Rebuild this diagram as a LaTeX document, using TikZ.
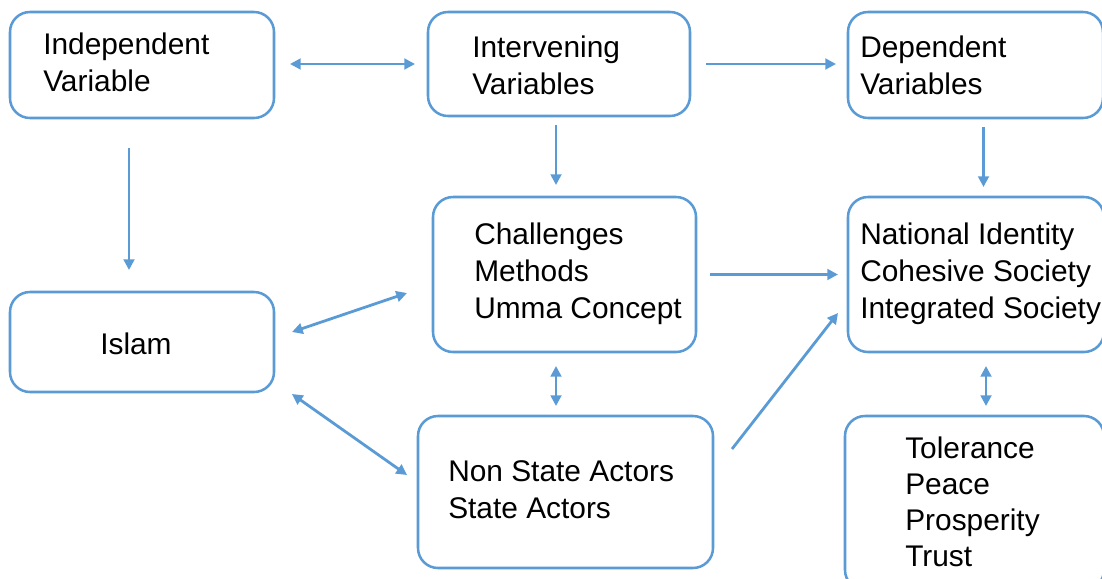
\documentclass[tikz,border=0pt]{standalone}
\usepackage{fontspec}
\setmainfont{Liberation Sans}
\usepackage{tikz}
\usetikzlibrary{calc,arrows.meta}
\definecolor{linkblue}{RGB}{91,155,213}
\def\boxfont{\fontsize{22.4}{27.75}\selectfont}
\def\tightfont{\fontsize{22.4}{26.8}\selectfont}
\tikzset{
	varbox/.style 2 args={draw=linkblue, line width=1.9pt, rounded corners=15pt, inner sep=0pt, outer sep=0pt, minimum width=#1*0.75pt, minimum height=#2*0.75pt},
	boxtext/.style={anchor=base west, align=left, inner sep=0pt, font=\boxfont},
	link/.style={draw=linkblue, line width=2.1pt, -{Triangle[length=8pt,width=8pt]}},
	twolink/.style={link, {Triangle[length=8pt,width=8pt]}-{Triangle[length=8pt,width=8pt]}}
}

\begin{document}
\begin{tikzpicture}[x=0.75pt, y=-0.75pt]
		%%%%% START %%%%%
		\useasboundingbox (0, 0) rectangle (1102, 578);
		\clip (0, 0) rectangle (1102, 578);
		
		\node[varbox={264}{106}] (indep) at (142, 65) {};
		\node[varbox={262}{104}] (interv) at (559, 64) {};
		\node[varbox={255}{106}] (dep) at (975.5, 65) {};
		\node[varbox={263}{155}] (challenges) at (564.5, 274.5) {};
		\node[varbox={256}{155}] (national) at (976, 274.5) {};
		\node[varbox={264}{100}] (islam) at (142, 342) {};
		\node[varbox={295}{152}] (nonstate) at (565.5, 492) {};
		\node[varbox={259}{174}] (tolerance) at (974.5, 503) {};
		
		% text anchored at the baseline of its last line
		\node[boxtext] (indep-t) at (43, 91) {Independent\\Variable};
		\node[boxtext] (interv-t) at (472, 94) {Intervening\\Variables};
		\node[boxtext] (dep-t) at (860, 94) {Dependent\\Variables};
		\node[boxtext] (challenges-t) at (474, 318) {Challenges\\Methods\\Umma Concept};
		\node[boxtext] (national-t) at (860, 318) {National Identity\\Cohesive Society\\Integrated Society};
		\node[boxtext] (islam-t) at (100, 354) {Islam};
		\node[boxtext] (nonstate-t) at (448, 518) {Non State Actors\\State Actors};
		\node[boxtext, font=\tightfont] (tolerance-t) at (905, 566) {Tolerance\\Peace\\Prosperity\\Trust};
		
		\draw[twolink] ($(indep.east)+(16,-1)$) -- ($(interv.west)+(-13,0)$);
		\draw[link] ($(interv.east)+(16,0)$) -- ($(dep.west)+(-12,-1)$);
		\draw[link] ($(indep.south)+(-13,30)$) -- ($(islam.north)+(-13,-22)$);
		\draw[link] ($(interv.south)+(-3,9)$) -- ($(challenges.north)+(-8.5,-12)$);
		\draw[link] ($(dep.south)+(8,9)$) -- ($(national.north)+(7.5,-10)$);
		\draw[link] ($(challenges.east)+(14,0)$) -- ($(national.west)+(-10,0)$);
		\draw[twolink] ($(islam.east)+(18,-10)$) -- ($(challenges.west)+(-26,18.5)$);
		\draw[twolink] ($(islam.east)+(18,52)$) -- ($(nonstate.west)+(-11,-17)$);
		\draw[twolink] ($(challenges.south)+(-8.5,14)$) -- ($(nonstate.north)+(-9.5,-10)$);
		\draw[link] ($(nonstate.east)+(19,-43)$) -- ($(national.west)+(-10,38.5)$);
		\draw[twolink] ($(national.south)+(10,14)$) -- ($(tolerance.north)+(11.5,-10)$);
		%%%%% END %%%%%
	\end{tikzpicture}
\end{document}
